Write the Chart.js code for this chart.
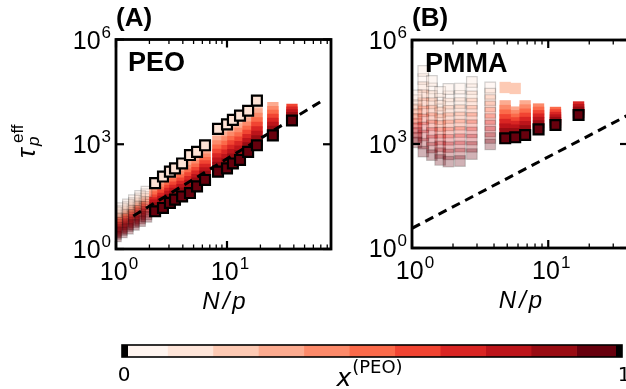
<!DOCTYPE html>
<html>
<head>
<meta charset="utf-8">
<script src="https://cdn.jsdelivr.net/npm/chart.js@4"></script>
<style>
  html, body { margin: 0; padding: 0; background: #fff; overflow: hidden; width: 626px; height: 389px; position: relative; }
  canvas { position: absolute; }
</style>
</head>
<body>
<canvas id="pa" width="345" height="330" style="left:0;top:0"></canvas>
<canvas id="pb" width="310" height="330" style="left:330px;top:0"></canvas>
<canvas id="cb" width="626" height="59" style="left:0;top:330px"></canvas>
<script>
// compositions x(PEO), one series each
const xPEO = [0, 0.1, 0.2, 0.3, 0.4, 0.5, 0.6, 0.7, 0.8, 0.9, 1.0]

// (A) PEO : N/p columns and tau_p^eff per composition
const npA = [1.0, 1.13, 1.28, 1.45, 1.65, 1.88, 2.25, 2.65, 3.06, 3.4, 3.94, 4.64, 5.37, 6.34, 8.3, 10, 11.3, 13.1, 15.5, 18.6, 25.9, 38.5]
const tauA_00 = [11.5, 14.8, 19, 25, 33, 44, 77, 119, 164, 204, 282, 490, 603, 933, 2750, 3700, 5000, 6600, 9100, 17800, null, null]
const tauA_01 = [9.8, 12.6, 16.2, 21, 28, 37, 64, 97, 134, 166, 227, 381, 480, 743, 2080, 2780, 3760, 4930, 6950, 13200, null, null]
const tauA_02 = [8.4, 10.8, 13.8, 18, 24, 31, 53, 79, 109, 135, 183, 296, 382, 592, 1570, 2080, 2820, 3680, 5300, 9860, null, null]
const tauA_03 = [7.1, 9.2, 11.7, 15.4, 20, 27, 44, 64, 89, 110, 147, 231, 304, 471, 1180, 1560, 2110, 2750, 4040, 7350, 11200, null]
const tauA_04 = [6.1, 7.8, 10, 13, 17, 22.5, 37, 52, 72, 90, 119, 179, 242, 375, 890, 1160, 1580, 2050, 3080, 5470, 8630, null]
const tauA_05 = [5.2, 6.7, 8.5, 11, 14.5, 19, 31, 42, 59, 73, 95, 140, 193, 299, 673, 871, 1190, 1530, 2340, 4070, 6650, null]
const tauA_06 = [4.4, 5.7, 7.2, 9.4, 12.2, 16, 25, 35, 48, 59, 77, 109, 153, 238, 508, 652, 891, 1140, 1790, 3030, 5120, 10000]
const tauA_07 = [3.8, 4.9, 6.2, 8, 10.4, 13.7, 21, 28, 39, 48, 62, 85, 122, 189, 383, 488, 668, 853, 1360, 2260, 3940, 8320]
const tauA_08 = [3.2, 4.1, 5.2, 6.8, 8.8, 11.6, 18, 23, 32, 39, 50, 66, 97, 151, 289, 365, 501, 637, 1040, 1680, 3030, 6920]
const tauA_09 = [2.7, 3.5, 4.5, 5.8, 7.4, 9.8, 15, 19, 26, 32, 40, 51, 77, 120, 218, 273, 376, 475, 791, 1250, 2340, 5750]
const tauA_10 = [2.3, 3.0, 3.8, 4.9, 6.3, 8.3, 12, 15, 21, 26, 32, 40, 62, 95, 164, 204, 282, 355, 603, 933, 1800, 4790]

// (B) PMMA
const npB = [1.08, 1.21, 1.40, 1.61, 1.85, 2.25, 2.75, 3.75, 4.83, 5.72, 6.77, 8.49, 11.3, 16.7]
const tauB_00 = [25100, 128000, 65600, 31600, 38600, 39800, 61700, null, null, null, null, null, null, null]
const tauB_01 = [18400, 74700, 40100, 20100, 23800, 24600, 38200, 42700, null, null, null, null, null, null]
const tauB_02 = [13500, 43700, 24500, 12800, 14700, 15200, 23700, 28100, 42700, 40000, null, null, null, null]
const tauB_03 = [9890, 25600, 15000, 8170, 9080, 9400, 14700, 18500, 12600, 8320, 12600, null, null, null]
const tauB_04 = [7240, 15000, 9160, 5200, 5600, 5810, 9080, 12100, 9250, 6550, 9550, 10200, null, null]
const tauB_05 = [5310, 8770, 5610, 3310, 3460, 3590, 5620, 7980, 6790, 5150, 7240, 8170, 8130, null]
const tauB_06 = [3890, 5130, 3430, 2110, 2130, 2220, 3480, 5250, 4990, 4060, 5500, 6530, 6890, null]
const tauB_07 = [2850, 3010, 2090, 1340, 1320, 1370, 2160, 3450, 3660, 3190, 4170, 5210, 5820, 11700]
const tauB_08 = [2090, 1760, 1280, 855, 811, 847, 1340, 2270, 2690, 2520, 3160, 4160, 4930, 9820]
const tauB_09 = [1530, 1030, 783, 545, 501, 524, 828, 1490, 1980, 1980, 2400, 3330, 4170, 8220]
const tauB_10 = [1120, 603, 479, 347, 309, 323, 513, 977, 1460, 1560, 1820, 2650, 3530, 6870]

// dashed guide lines (end points)
const lineA_np = [1.43, 76]
const lineA_tau = [8.8, 19600]
const lineB_np = [1, 38.5]
const lineB_tau = [3.7, 6800]

// faded (small N) points lie below these N/p
const fadeBelowA = 2.0
const fadeBelowB = 4.3

// tick values
const xMajorTicks = [1, 10]
const xMinorTicks = [2, 3, 4, 5, 6, 7, 8, 9, 20, 30, 40, 50, 60, 70, 80]
const yMajorTicks = [1, 1e3, 1e6]
const cbarTicks = [0, 1]

const reds = ['#fff5f0', '#fee5d9', '#fdcab4', '#fcab90', '#fc8a6a', '#fb6a4a', '#f14432', '#d92523', '#bc141a', '#990c13', '#67000d']
const topPoint = '#fde2d5'
const FONT = '"Liberation Sans", Arial, sans-serif'
const DJ = '"DejaVu Sans", sans-serif'

function rgba(hex, a) {
  const n = parseInt(hex.slice(1), 16)
  return `rgba(${n >> 16},${(n >> 8) & 255},${n & 255},${a})`
}

function seriesSets(np, rows, fadeBelow) {
  const last = rows.length - 1
  return rows.map((vals, k) => {
    const edge = k === 0 || k === last
    const col = k === 0 ? topPoint : reds[k]
    const faded = c => c.raw && c.raw.x < fadeBelow
    return {
      data: np.map((v, i) => ({ x: v, y: vals[i] })).filter(p => p.y != null),
      pointStyle: 'rect',
      pointRadius: c => faded(c) ? 7.5 : (edge ? 7 : 8),
      pointBackgroundColor: c => faded(c) ? rgba(col, 0.3) : col,
      pointBorderColor: c => faded(c) ? 'rgba(0,0,0,0.18)' : (edge ? '#000' : 'rgba(0,0,0,0)'),
      pointBorderWidth: c => faded(c) ? 1.2 : (edge ? 2.2 : 0),
      showLine: false,
      clip: 0,
      order: edge ? 0 : 2 + (last - k) / 100,
    }
  })
}

function guide(np, tau) {
  return {
    data: np.map((v, i) => ({ x: v, y: tau[i] })),
    showLine: true,
    borderColor: '#000',
    borderWidth: 3,
    borderDash: [9, 6],
    pointRadius: 0,
    clip: 0,
    order: 1,
  }
}

function powLabel(ctx, exp, x, y, align) {
  ctx.font = `25px ${FONT}`
  const w1 = ctx.measureText('10').width
  ctx.font = `17px ${FONT}`
  const w2 = ctx.measureText(String(exp)).width
  const tot = w1 + 1 + w2
  const x0 = align === 'right' ? x - tot : x - tot / 2
  ctx.textAlign = 'left'
  ctx.textBaseline = 'alphabetic'
  ctx.font = `25px ${FONT}`
  ctx.fillText('10', x0, y)
  ctx.font = `17px ${FONT}`
  ctx.fillText(String(exp), x0 + w1 + 1, y - 11)
}

function axes(extra) {
  return {
    id: 'axes',
    afterDatasetsDraw(chart) {
      const { ctx, chartArea: a } = chart
      const xs = chart.scales.x, ys = chart.scales.y
      const seg = (x1, y1, x2, y2, w) => {
        ctx.lineWidth = w
        ctx.beginPath(); ctx.moveTo(x1, y1); ctx.lineTo(x2, y2); ctx.stroke()
      }
      ctx.save()
      ctx.strokeStyle = '#000'
      ctx.fillStyle = '#000'
      for (const v of xMinorTicks) {
        const p = xs.getPixelForValue(v)
        if (p > a.left && p < a.right) { seg(p, a.bottom, p, a.bottom - 4.5, 1.3); seg(p, a.top, p, a.top + 4.5, 1.3) }
      }
      for (const v of xMajorTicks) {
        const p = xs.getPixelForValue(v)
        seg(p, a.bottom, p, a.bottom - 8, 2.2); seg(p, a.top, p, a.top + 8, 2.2)
      }
      for (const v of yMajorTicks) {
        const p = ys.getPixelForValue(v)
        seg(a.left, p, a.left + 8, p, 2.2); seg(a.right, p, a.right - 8, p, 2.2)
      }
      ctx.lineWidth = 2.8
      ctx.strokeRect(a.left, a.top, a.right - a.left, a.bottom - a.top)
      for (const v of yMajorTicks) powLabel(ctx, Math.round(Math.log10(v)), a.left - 5, ys.getPixelForValue(v) + 9, 'right')
      for (const v of xMajorTicks) powLabel(ctx, Math.round(Math.log10(v)), xs.getPixelForValue(v) + 3, a.bottom + 31, 'center')
      // x title N/p
      ctx.font = `italic 24px ${FONT}`
      ctx.textAlign = 'center'
      ctx.letterSpacing = '3px'
      ctx.fillText('N/p', (a.left + a.right) / 2 + 2, a.bottom + 60)
      ctx.letterSpacing = '0px'
      extra(ctx, a)
      ctx.restore()
    }
  }
}

function baseOptions(xmax, pad) {
  return {
    animation: false,
    responsive: false,
    devicePixelRatio: 1,
    events: [],
    layout: { padding: pad },
    plugins: { legend: { display: false }, tooltip: { enabled: false } },
    scales: {
      x: { type: 'logarithmic', min: 1, max: xmax, display: false },
      y: { type: 'logarithmic', min: 1, max: 1e6, display: false },
    }
  }
}

const rowsA = [tauA_00, tauA_01, tauA_02, tauA_03, tauA_04, tauA_05, tauA_06, tauA_07, tauA_08, tauA_09, tauA_10]
const rowsB = [tauB_00, tauB_01, tauB_02, tauB_03, tauB_04, tauB_05, tauB_06, tauB_07, tauB_08, tauB_09, tauB_10]

new Chart(document.getElementById('pa'), {
  type: 'scatter',
  data: { datasets: [guide(lineA_np, lineA_tau), ...seriesSets(npA, rowsA, fadeBelowA)] },
  options: baseOptions(86.5, { left: 116, right: 14, top: 39.5, bottom: 81 }),
  plugins: [axes((ctx, a) => {
    ctx.textAlign = 'left'
    ctx.font = `bold 26px ${FONT}`
    ctx.fillText('(A)', 116, 26)
    ctx.font = `bold 27px ${FONT}`
    ctx.fillText('PEO', 128, 71)
    // y title tau_p^eff, rotated
    ctx.save()
    ctx.translate(35, 158)
    ctx.rotate(-Math.PI / 2)
    ctx.font = `italic 26px ${FONT}`
    ctx.fillText('τ', 0, 0)
    ctx.font = `italic 17px ${FONT}`
    ctx.fillText('p', 12, 4)
    ctx.font = `17px ${FONT}`
    ctx.fillText('eff', 15, -12)
    ctx.restore()
  })]
})

new Chart(document.getElementById('pb'), {
  type: 'scatter',
  data: { datasets: [guide(lineB_np, lineB_tau), ...seriesSets(npB, rowsB, fadeBelowB)] },
  options: baseOptions(38.5, { left: 82, right: 12, top: 40, bottom: 82 }),
  plugins: [axes((ctx, a) => {
    ctx.textAlign = 'left'
    ctx.font = `bold 26px ${FONT}`
    ctx.fillText('(B)', 82, 26)
    ctx.font = `bold 27px ${FONT}`
    ctx.fillText('PMMA', 95, 72)
  })]
})

// colour bar
const cbarPlugin = {
  id: 'cbar',
  afterDatasetsDraw(chart) {
    const { ctx, chartArea: a } = chart
    const xs = chart.scales.x
    ctx.save()
    ctx.fillStyle = '#000'
    ctx.fillRect(a.left, a.top, 6, a.bottom - a.top)
    ctx.fillRect(a.right - 6, a.top, 6, a.bottom - a.top)
    ctx.strokeStyle = '#000'
    ctx.lineWidth = 1.6
    ctx.strokeRect(a.left, a.top, a.right - a.left, a.bottom - a.top)
    ctx.font = `20px ${DJ}`
    ctx.textAlign = 'center'
    ctx.textBaseline = 'alphabetic'
    for (const v of cbarTicks) ctx.fillText(String(v), xs.getPixelForValue(v) + 2, 51)
    // label x^(PEO)
    ctx.textAlign = 'left'
    ctx.font = `italic 25px ${DJ}`
    const wx = ctx.measureText('x').width
    ctx.font = `18px ${DJ}`
    const ws = ctx.measureText('(PEO)').width
    const x0 = (a.left + a.right) / 2 - (wx + ws) / 2 - 3
    ctx.font = `italic 25px ${DJ}`
    ctx.fillText('x', x0, 56)
    ctx.font = `18px ${DJ}`
    ctx.fillText('(PEO)', x0 + wx + 1, 43)
    ctx.restore()
  }
}

new Chart(document.getElementById('cb'), {
  type: 'bar',
  data: {
    labels: [''],
    datasets: xPEO.map((v, k) => ({
      data: [[k / xPEO.length, (k + 1) / xPEO.length]],
      backgroundColor: reds[k],
      borderWidth: 0,
      barPercentage: 1,
      categoryPercentage: 1,
      grouped: false,
    }))
  },
  options: {
    indexAxis: 'y',
    animation: false,
    responsive: false,
    devicePixelRatio: 1,
    events: [],
    layout: { padding: { left: 122, right: 4, top: 15, bottom: 32 } },
    plugins: { legend: { display: false }, tooltip: { enabled: false } },
    scales: {
      x: { type: 'linear', min: 0, max: 1, display: false },
      y: { display: false },
    }
  },
  plugins: [cbarPlugin]
})
</script>
</body>
</html>
